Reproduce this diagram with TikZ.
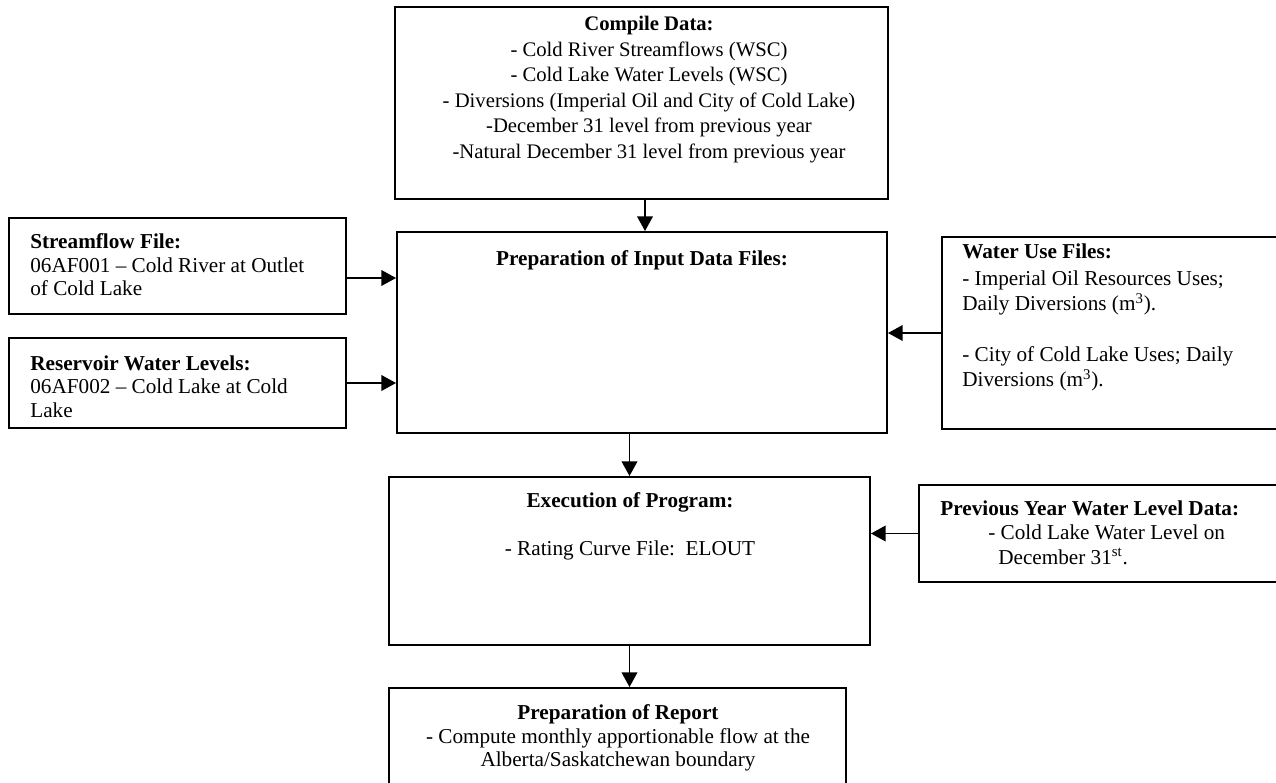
\documentclass[tikz,border=0pt]{standalone}
\usepackage{fontspec}
\setmainfont{Liberation Serif}
\usetikzlibrary{arrows.meta}
\tikzset{
  box/.style={draw, line width=1.1pt, inner sep=0pt, fill=none},
  sz/.style 2 args={minimum width=#1*0.58pt, minimum height=#2*0.58pt},
  txt/.style={inner sep=0pt, font=\fontsize{12.3pt}{14pt}\selectfont},
  arr/.style={line width=1.1pt, -{Triangle[length=8.5pt,width=9pt]}},
}
\begin{document}
\begin{tikzpicture}[x=0.58pt,y=-0.58pt]
\fill[white] (0,0) rectangle (1276,782);
\path[use as bounding box, clip] (0,0) rectangle (1276,782);
% boxes
\node[box, sz={493}{192}] (cd) at (641.5,103) {};
\node[box, sz={337}{96}] (sf) at (177.5,266) {};
\node[box, sz={337}{90}] (rw) at (177.5,383) {};
\node[box, sz={490}{201}] (pi) at (642,332.5) {};
\node[box, sz={358}{192}] (wu) at (1121,333) {};
\node[box, sz={481}{168}] (ex) at (629.5,561) {};
\node[box, sz={381}{97}] (py) at (1109.5,533.5) {};
\node[box, sz={457}{112}] (rp) at (617.5,744) {};
% texts
\node[txt, anchor=north, align=center, font=\fontsize{12pt}{14.8pt}\selectfont] (cdt) at (649,16)
  {\textbf{Compile Data:}\\
   - Cold River Streamflows (WSC)\\
   - Cold Lake Water Levels (WSC)\\
   - Diversions (Imperial Oil and City of Cold Lake)\\
   -December 31 level from previous year\\
   -Natural December 31 level from previous year};
\node[txt, anchor=north west, align=left, font=\fontsize{12.3pt}{13.8pt}\selectfont] (sft) at (30,233)
  {\textbf{Streamflow File:}\\
   06AF001 -- Cold River at Outlet\\
   of Cold Lake};
\node[txt, anchor=north west, align=left, font=\fontsize{12.3pt}{13.8pt}\selectfont] (rwt) at (30,355)
  {\textbf{Reservoir Water Levels:}\\
   06AF002 -- Cold Lake at Cold\\
   Lake};
\node[txt, anchor=north] (pit) at (642,250) {\textbf{Preparation of Input Data Files:}};
\node[txt, anchor=north west, align=left, font=\fontsize{12.3pt}{14.6pt}\selectfont] (wut) at (962,243)
  {\textbf{Water Use Files:}\\[1.5pt]
   - Imperial Oil Resources Uses;\\
   Daily Diversions (m\textsuperscript{3}).\\[14.6pt]
   - City of Cold Lake Uses; Daily\\
   Diversions (m\textsuperscript{3}).};
\node[txt, anchor=north, align=center, font=\fontsize{12.3pt}{14pt}\selectfont] (ext) at (630,492)
  {\textbf{Execution of Program:}\\[14pt]
   - Rating Curve File:\ \ ELOUT};
\node[txt, anchor=north west, align=left, font=\fontsize{12.3pt}{14.2pt}\selectfont] (pyt) at (940,500)
  {\textbf{Previous Year Water Level Data:}\\
   \hspace*{27.8pt}- Cold Lake Water Level on\\
   \hspace*{33.6pt}December 31\textsuperscript{st}.};
\node[txt, anchor=north, align=center, font=\fontsize{12.3pt}{13.8pt}\selectfont] (rpt) at (618,704)
  {\textbf{Preparation of Report}\\
   - Compute monthly apportionable flow at the\\
   Alberta/Saskatchewan boundary};
% connectors
\draw[arr] (cd.south -| 645,0) -- (pi.north -| 645,0);
\draw[arr] (sf.east |- 0,278) -- (pi.west |- 0,278);
\draw[arr] (rw.east) -- (rw.east -| pi.west);
\draw[arr] (wu.west) -- (wu.west -| pi.east);
\draw[arr] (ex.north |- pi.south) -- (ex.north);
\draw[arr] (py.west) -- (py.west -| ex.east);
\draw[arr] (ex.south) -- (ex.south |- rp.north);
\end{tikzpicture}
\end{document}
